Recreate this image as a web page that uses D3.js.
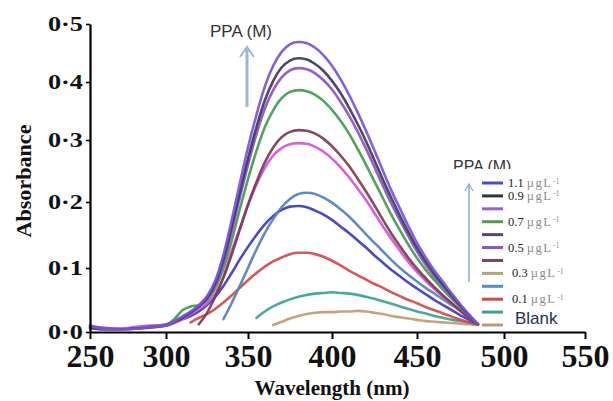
<!DOCTYPE html>
<html><head><meta charset="utf-8">
<script src="https://cdn.jsdelivr.net/npm/d3@7"></script>
<style>body{margin:0;background:#fff}svg{display:block}</style>
</head><body><svg id="c" width="613" height="401"></svg>
<script>
const N = null;
const wavelengths = [250,260,270,280,290,300,305,310,315,320,325,330,335,340,345,350,355,360,365,370,375,380,385,390,395,400,405,410,415,420,425,430,435,440,445,450,455,460,465,470,475,480,485];

const violet = [.009,.005,.004,.005,.008,.010,.016,.024,.032,.042,.056,.080,.120,.172,.230,.288,.343,.392,.428,.452,.465,.469,.467,.459,.446,.428,.405,.378,.348,.316,.283,.250,.218,.190,.163,.138,.116,.096,.078,.060,.043,.027,.012];
const dark = [.006,.004,.004,.005,.007,.010,.015,.022,.030,.040,.053,.076,.113,.162,.216,.270,.322,.368,.402,.425,.437,.441,.439,.431,.419,.402,.381,.356,.328,.298,.267,.236,.206,.179,.154,.131,.110,.091,.074,.057,.041,.026,.012];
const purple = [.010,.006,.005,.006,.009,.012,.017,.024,.031,.040,.052,.073,.108,.155,.207,.260,.310,.354,.386,.408,.420,.424,.422,.415,.403,.387,.366,.342,.315,.286,.256,.226,.197,.172,.148,.125,.105,.087,.071,.055,.040,.025,.012];
const green = [N,N,N,N,N,.010,.020,.034,.040,.042,.050,.068,.099,.141,.189,.237,.282,.322,.351,.372,.383,.386,.384,.378,.367,.352,.333,.311,.286,.260,.233,.206,.180,.157,.135,.115,.097,.081,.066,.052,.038,.025,.012];
const maroon = [N,N,N,N,N,N,N,N,N,.012,.030,.055,.085,.120,.158,.196,.232,.264,.288,.305,.314,.317,.316,.311,.302,.290,.275,.258,.238,.217,.195,.173,.152,.133,.115,.099,.084,.070,.057,.045,.033,.022,.012];
const magenta = [.008,.006,.005,.008,.010,.010,.014,.020,.028,.036,.045,.060,.085,.125,.160,.195,.228,.255,.275,.287,.293,.295,.294,.289,.281,.270,.256,.240,.222,.203,.183,.163,.144,.126,.109,.094,.080,.067,.055,.044,.033,.022,.012];
const steel = [N,N,N,N,N,N,N,N,N,N,N,N,.020,.045,.072,.100,.128,.153,.174,.192,.205,.213,.215,.213,.207,.199,.189,.178,.165,.151,.138,.125,.112,.100,.089,.079,.069,.060,.051,.042,.033,.023,.013];
const royal = [N,N,N,N,N,N,.015,.020,.025,.032,.042,.055,.072,.092,.113,.132,.150,.166,.179,.188,.193,.194,.192,.187,.181,.173,.163,.153,.142,.131,.119,.108,.097,.087,.077,.068,.059,.050,.042,.034,.026,.019,.012];
const red = [N,N,N,N,N,N,N,N,.015,.022,.028,.036,.046,.057,.069,.081,.092,.102,.110,.116,.121,.123,.123,.121,.117,.111,.104,.096,.089,.082,.075,.069,.062,.056,.050,.045,.039,.034,.029,.024,.019,.015,.012];
const teal = [N,N,N,N,N,N,N,N,N,N,N,N,N,N,N,N,.022,.032,.040,.046,.051,.055,.058,.060,.061,.062,.061,.060,.058,.055,.052,.048,.044,.040,.036,.032,.029,.025,.022,.019,.017,.015,.012];
const tan = [N,N,N,N,N,N,N,N,N,N,N,N,N,N,N,N,N,N,.011,.016,.021,.025,.028,.030,.031,.031,.032,.032,.033,.032,.030,.028,.025,.023,.021,.019,.017,.016,.015,.014,.013,.012,.011];

const xTicks = [250,300,350,400,450,500,550];
const yTicks = [0,0.1,0.2,0.3,0.4,0.5];
const legendNumbers = ["1.1","0.9","","0.7","","0.5","","0.3","","0.1","",""];
const legendBlank = "Blank";
const arrowLabel = "PPA (M)";
const xTitle = "Wavelength (nm)";
const yTitle = "Absorbance";

// drawing order: bottom curves first
const curves = [
  {v: tan, c: "#c29b6c"},
  {v: teal, c: "#3ba293"},
  {v: red, c: "#d24a4a"},
  {v: royal, c: "#3b3bc2"},
  {v: steel, c: "#5283ba"},
  {v: magenta, c: "#d453d8"},
  {v: maroon, c: "#7b3c50"},
  {v: green, c: "#429c4c"},
  {v: purple, c: "#8e50c2"},
  {v: dark, c: "#3b3b5e"},
  {v: violet, c: "#7b52db"}
];
const legendColors = ["#4a4ad2","#333333","#9a5fd2","#4f9b50","#4b4b82","#8a55cc","#7c4262","#b3a372","#5090c2","#d24848","#3ba190","#bb9a72"];

const svg = d3.select("#c");
svg.append("rect").attr("width",613).attr("height",401).attr("fill","#fff");

const x = d3.scaleLinear().domain(xTicks).range([90,166,248,332,417,504,585]);
const y = d3.scaleLinear().domain(yTicks).range([332,268,202,140,82,24]);

const serif = "'Liberation Serif','Times New Roman',serif";
const sans = "'Liberation Sans',Arial,sans-serif";

// curves
const line = d3.line()
  .defined(d => d[1] !== null)
  .x(d => x(d[0])).y(d => y(d[1]))
  .curve(d3.curveMonotoneX);
curves.forEach(s => {
  const pts = wavelengths.map((w,i) => [w, s.v[i]]);
  svg.append("path").attr("d", line(pts)).attr("fill","none")
    .attr("stroke", s.c).attr("stroke-width", 2.6).attr("stroke-opacity", 0.92)
    .attr("stroke-linecap","round").attr("stroke-linejoin","round");
});

// axes
const gx = svg.append("g").attr("transform", `translate(0,${y(0)})`)
  .call(d3.axisBottom(x).tickValues(xTicks).tickSize(7).tickSizeOuter(0).tickPadding(5).tickFormat(d3.format("d")));
gx.select(".domain").attr("stroke","#000").attr("stroke-width",2.2);
gx.selectAll(".tick line").attr("stroke","#000").attr("stroke-width",2);
gx.selectAll(".tick text").attr("font-family",serif).attr("font-weight","bold")
  .attr("font-size",32).attr("fill","#111");

const gy = svg.append("g").attr("transform", `translate(${x(250)},0)`)
  .call(d3.axisLeft(y).tickValues(yTicks).tickSize(4).tickSizeOuter(0).tickPadding(3)
    .tickFormat(d => d.toFixed(1).replace(".", "\u00B7")));
gy.select(".domain").attr("stroke","#000").attr("stroke-width",2.2);
gy.selectAll(".tick line").attr("stroke","#000").attr("stroke-width",1.6);
gy.selectAll(".tick text").attr("font-family",serif).attr("font-weight","bold")
  .attr("font-size",21).attr("fill","#111")
  .attr("textLength",35).attr("lengthAdjust","spacingAndGlyphs");

// axis titles
svg.append("text").attr("x",332).attr("y",395).attr("text-anchor","middle")
  .attr("font-family",serif).attr("font-weight","bold").attr("font-size",20).attr("fill","#111")
  .attr("textLength",155).attr("lengthAdjust","spacingAndGlyphs").text(xTitle);
svg.append("text").attr("transform","translate(31,181) rotate(-90)").attr("text-anchor","middle")
  .attr("font-family",serif).attr("font-weight","bold").attr("font-size",20).attr("fill","#111")
  .attr("textLength",113).attr("lengthAdjust","spacingAndGlyphs").text(yTitle);

// top annotation
svg.append("text").attr("x",241).attr("y",37).attr("text-anchor","middle")
  .attr("font-family",sans).attr("font-size",17).attr("fill","#333").text(arrowLabel);
svg.append("line").attr("x1",247).attr("y1",107).attr("x2",247).attr("y2",48)
  .attr("stroke","#9bb6d6").attr("stroke-width",3);
svg.append("polyline").attr("points","240,57 247,47 254,57").attr("fill","none")
  .attr("stroke","#9bb6d6").attr("stroke-width",2);

// legend
svg.append("text").attr("x",453).attr("y",172)
  .attr("font-family",sans).attr("font-size",16).attr("fill","#333").text(arrowLabel);
svg.append("rect").attr("x",448).attr("y",169).attr("width",85).attr("height",8).attr("fill","#fff");
svg.append("line").attr("x1",469).attr("y1",282).attr("x2",469).attr("y2",185)
  .attr("stroke","#8fb0d8").attr("stroke-width",1.6);
svg.append("polyline").attr("points","465,191 469,184 473,191").attr("fill","none")
  .attr("stroke","#8fb0d8").attr("stroke-width",1.4);

const ly = d3.scalePoint().domain(d3.range(legendColors.length)).range([183,325]);
legendColors.forEach((c,i) => {
  svg.append("line").attr("x1",482).attr("x2",503).attr("y1",ly(i)).attr("y2",ly(i))
    .attr("stroke",c).attr("stroke-width",3);
  const num = legendNumbers[i];
  if (num) {
    const off = (i >= 7) ? 512 : 508;
    const t = svg.append("text").attr("x",off).attr("y",ly(i)+4)
      .attr("font-family",serif).attr("font-size",12.5).attr("fill","#222");
    t.append("tspan").text(num + " ");
    t.append("tspan").attr("fill","#8a8a8a").attr("letter-spacing",1.5).text("\u00B5gL");
    t.append("tspan").attr("fill","#8a8a8a").attr("font-size",7.5).attr("dy",-3.5).attr("dx",1).text("-1");
  }
});
svg.append("text").attr("x",515).attr("y",324)
  .attr("font-family",sans).attr("font-size",17).attr("fill","#1f3050").text(legendBlank);
</script></body></html>
